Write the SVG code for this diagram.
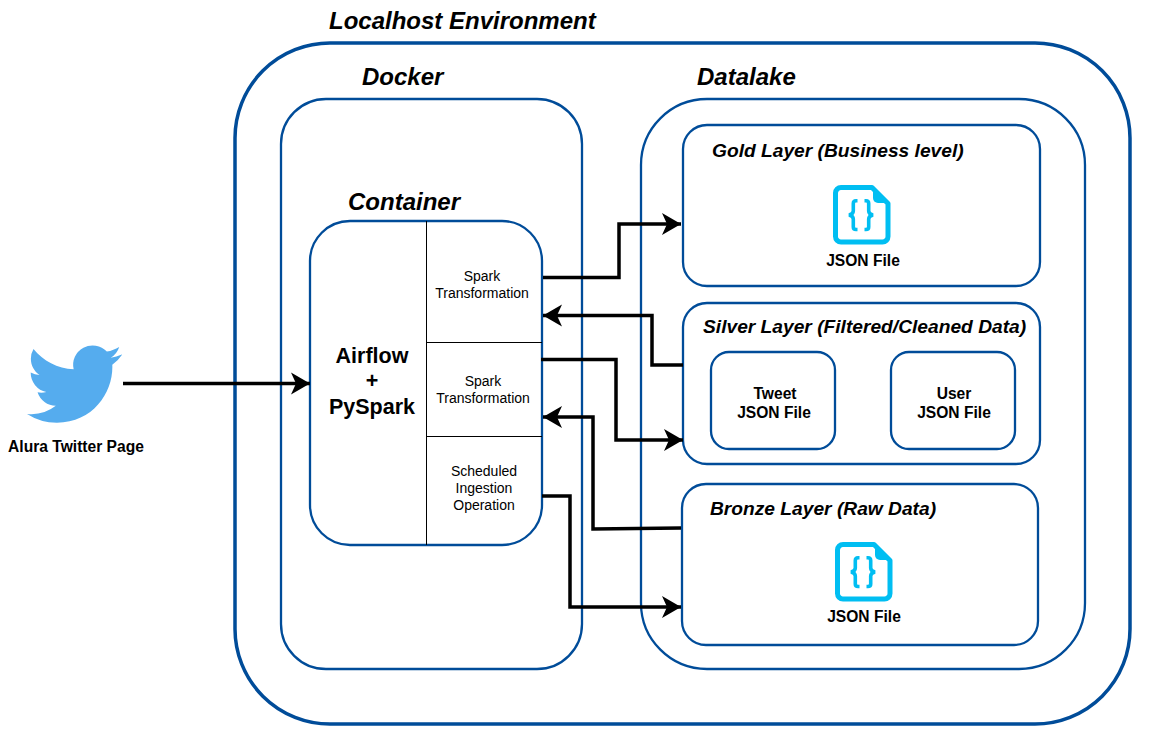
<svg xmlns="http://www.w3.org/2000/svg" width="1150" height="737" viewBox="0 0 1150 737">
<style>
.box{fill:none;stroke:#004c99;stroke-width:2.300}
.outer{fill:none;stroke:#004c99;stroke-width:3.500}
.div{stroke:#000;stroke-width:1;fill:none}
.title{font:italic bold 24px "Liberation Sans",Arial,sans-serif;fill:#000}
.layer{font:italic bold 19.200px "Liberation Sans",Arial,sans-serif;fill:#000}
.small{font:14px "Liberation Sans",Arial,sans-serif;fill:#000;text-anchor:middle}
.bold{font:bold 15.600px "Liberation Sans",Arial,sans-serif;fill:#000;text-anchor:middle}
.big{font:bold 21.500px "Liberation Sans",Arial,sans-serif;fill:#000;text-anchor:middle}
.conn{fill:none;stroke:#000;stroke-width:3.500;marker-end:url(#arrow)}
.js{fill:none;stroke:#00bef2;stroke-width:5;stroke-linejoin:round}
</style>
<defs>
<marker id="arrow" markerUnits="userSpaceOnUse" markerWidth="22" markerHeight="24" refX="20" refY="12" orient="auto">
<path d="M1 1 L20 12 L1 23 L6 12 Z" fill="#000"/>
</marker>
<g id="json-icon">
<path class="js" d="M8 2.500H39L55 18.500V51.500A5.500 5.500 0 0 1 49.500 57H8A5.500 5.500 0 0 1 2.500 51.500V8A5.500 5.500 0 0 1 8 2.500Z"/>
<path d="M40 3 L55 18 H45 A5 5 0 0 1 40 13 Z" fill="#00bef2"/>
<path d="M24.500 15.800H23Q20.300 15.800 20.300 18.500V26Q20.300 29 16 30Q20.300 31 20.300 34V42Q20.300 44.500 23 44.500H24.500M31.500 15.800H33Q35.700 15.800 35.700 18.500V26Q35.700 29 40 30Q35.700 31 35.700 34V42Q35.700 44.500 33 44.500H31.500" fill="none" stroke="#00bef2" stroke-width="3.600"/>
</g>
</defs>
<rect width="1150" height="737" fill="#fff"/>
<g id="localhost">
<rect class="outer" x="235" y="43" width="895" height="681" rx="95" ry="95"/>
<text class="title" x="329" y="29">Localhost Environment</text>
</g>
<g id="docker">
<rect class="box" x="281" y="99" width="301" height="570" rx="45" ry="45"/>
<text class="title" x="362" y="85">Docker</text>
</g>
<g id="datalake">
<rect class="box" x="641" y="99" width="444" height="570" rx="66" ry="66"/>
<text class="title" x="697" y="85">Datalake</text>
</g>
<g id="container">
<text class="title" x="348" y="210">Container</text>
<rect class="box" x="310" y="221" width="232" height="324" rx="40" ry="40"/>
<path class="div" d="M426.500 221V545M426.500 342.500H542M426.500 436.500H542"/>
<text class="big" x="372" y="363">Airflow</text>
<text class="big" x="372" y="388">+</text>
<text class="big" x="372" y="414">PySpark</text>
<text class="small" x="482" y="281">Spark</text>
<text class="small" x="482" y="298">Transformation</text>
<text class="small" x="483" y="386">Spark</text>
<text class="small" x="483" y="403">Transformation</text>
<text class="small" x="484" y="476">Scheduled</text>
<text class="small" x="484" y="493">Ingestion</text>
<text class="small" x="484" y="510">Operation</text>
</g>
<g id="gold">
<rect class="box" x="683" y="125" width="357" height="161" rx="24" ry="24"/>
<text class="layer" x="712" y="157">Gold Layer (Business level)</text>
<use href="#json-icon" x="833" y="185"/>
<text class="bold" x="863" y="266">JSON File</text>
</g>
<g id="silver">
<rect class="box" x="683" y="303" width="357" height="161" rx="24" ry="24"/>
<text class="layer" x="703" y="333">Silver Layer (Filtered/Cleaned Data)</text>
</g>
<g id="tweet">
<rect class="box" x="711" y="352" width="124" height="97" rx="18" ry="18"/>
<text class="bold" x="775" y="399">Tweet</text>
<text class="bold" x="774" y="418">JSON File</text>
</g>
<g id="user">
<rect class="box" x="891" y="352" width="124" height="97" rx="18" ry="18"/>
<text class="bold" x="954" y="399">User</text>
<text class="bold" x="954" y="418">JSON File</text>
</g>
<g id="bronze">
<rect class="box" x="682" y="484" width="356" height="161" rx="24" ry="24"/>
<text class="layer" x="710" y="515">Bronze Layer (Raw Data)</text>
<use href="#json-icon" x="835" y="542"/>
<text class="bold" x="864" y="622">JSON File</text>
</g>
<g id="twitter">
<path transform="translate(27 336.500) scale(3.960)" fill="#55acee" d="M23.953 4.570a10 10 0 01-2.825.775 4.958 4.958 0 002.163-2.723c-.951.555-2.005.959-3.127 1.184a4.920 4.920 0 00-8.384 4.482C7.690 8.095 4.067 6.130 1.640 3.162a4.822 4.822 0 00-.666 2.475c0 1.710.870 3.213 2.188 4.096a4.904 4.904 0 01-2.228-.616v.060a4.923 4.923 0 003.946 4.827 4.996 4.996 0 01-2.212.085 4.936 4.936 0 004.604 3.417 9.867 9.867 0 01-6.102 2.105c-.390 0-.779-.023-1.170-.067a13.995 13.995 0 007.557 2.209c9.053 0 13.998-7.496 13.998-13.985 0-.210 0-.420-.015-.630A9.935 9.935 0 0024 4.590z"/>
<text class="bold" x="76" y="452">Alura Twitter Page</text>
</g>
<g id="connectors">
<path class="conn" d="M123 383.500H310"/>
<path class="conn" d="M543 277.500H619V224H681"/>
<path class="conn" d="M683 365H652V315.500H543"/>
<path class="conn" d="M541 359.500H616V440H683"/>
<path class="conn" d="M681 528L593 529V417H543"/>
<path class="conn" d="M542 496H570V607H681"/>
</g>
</svg>
